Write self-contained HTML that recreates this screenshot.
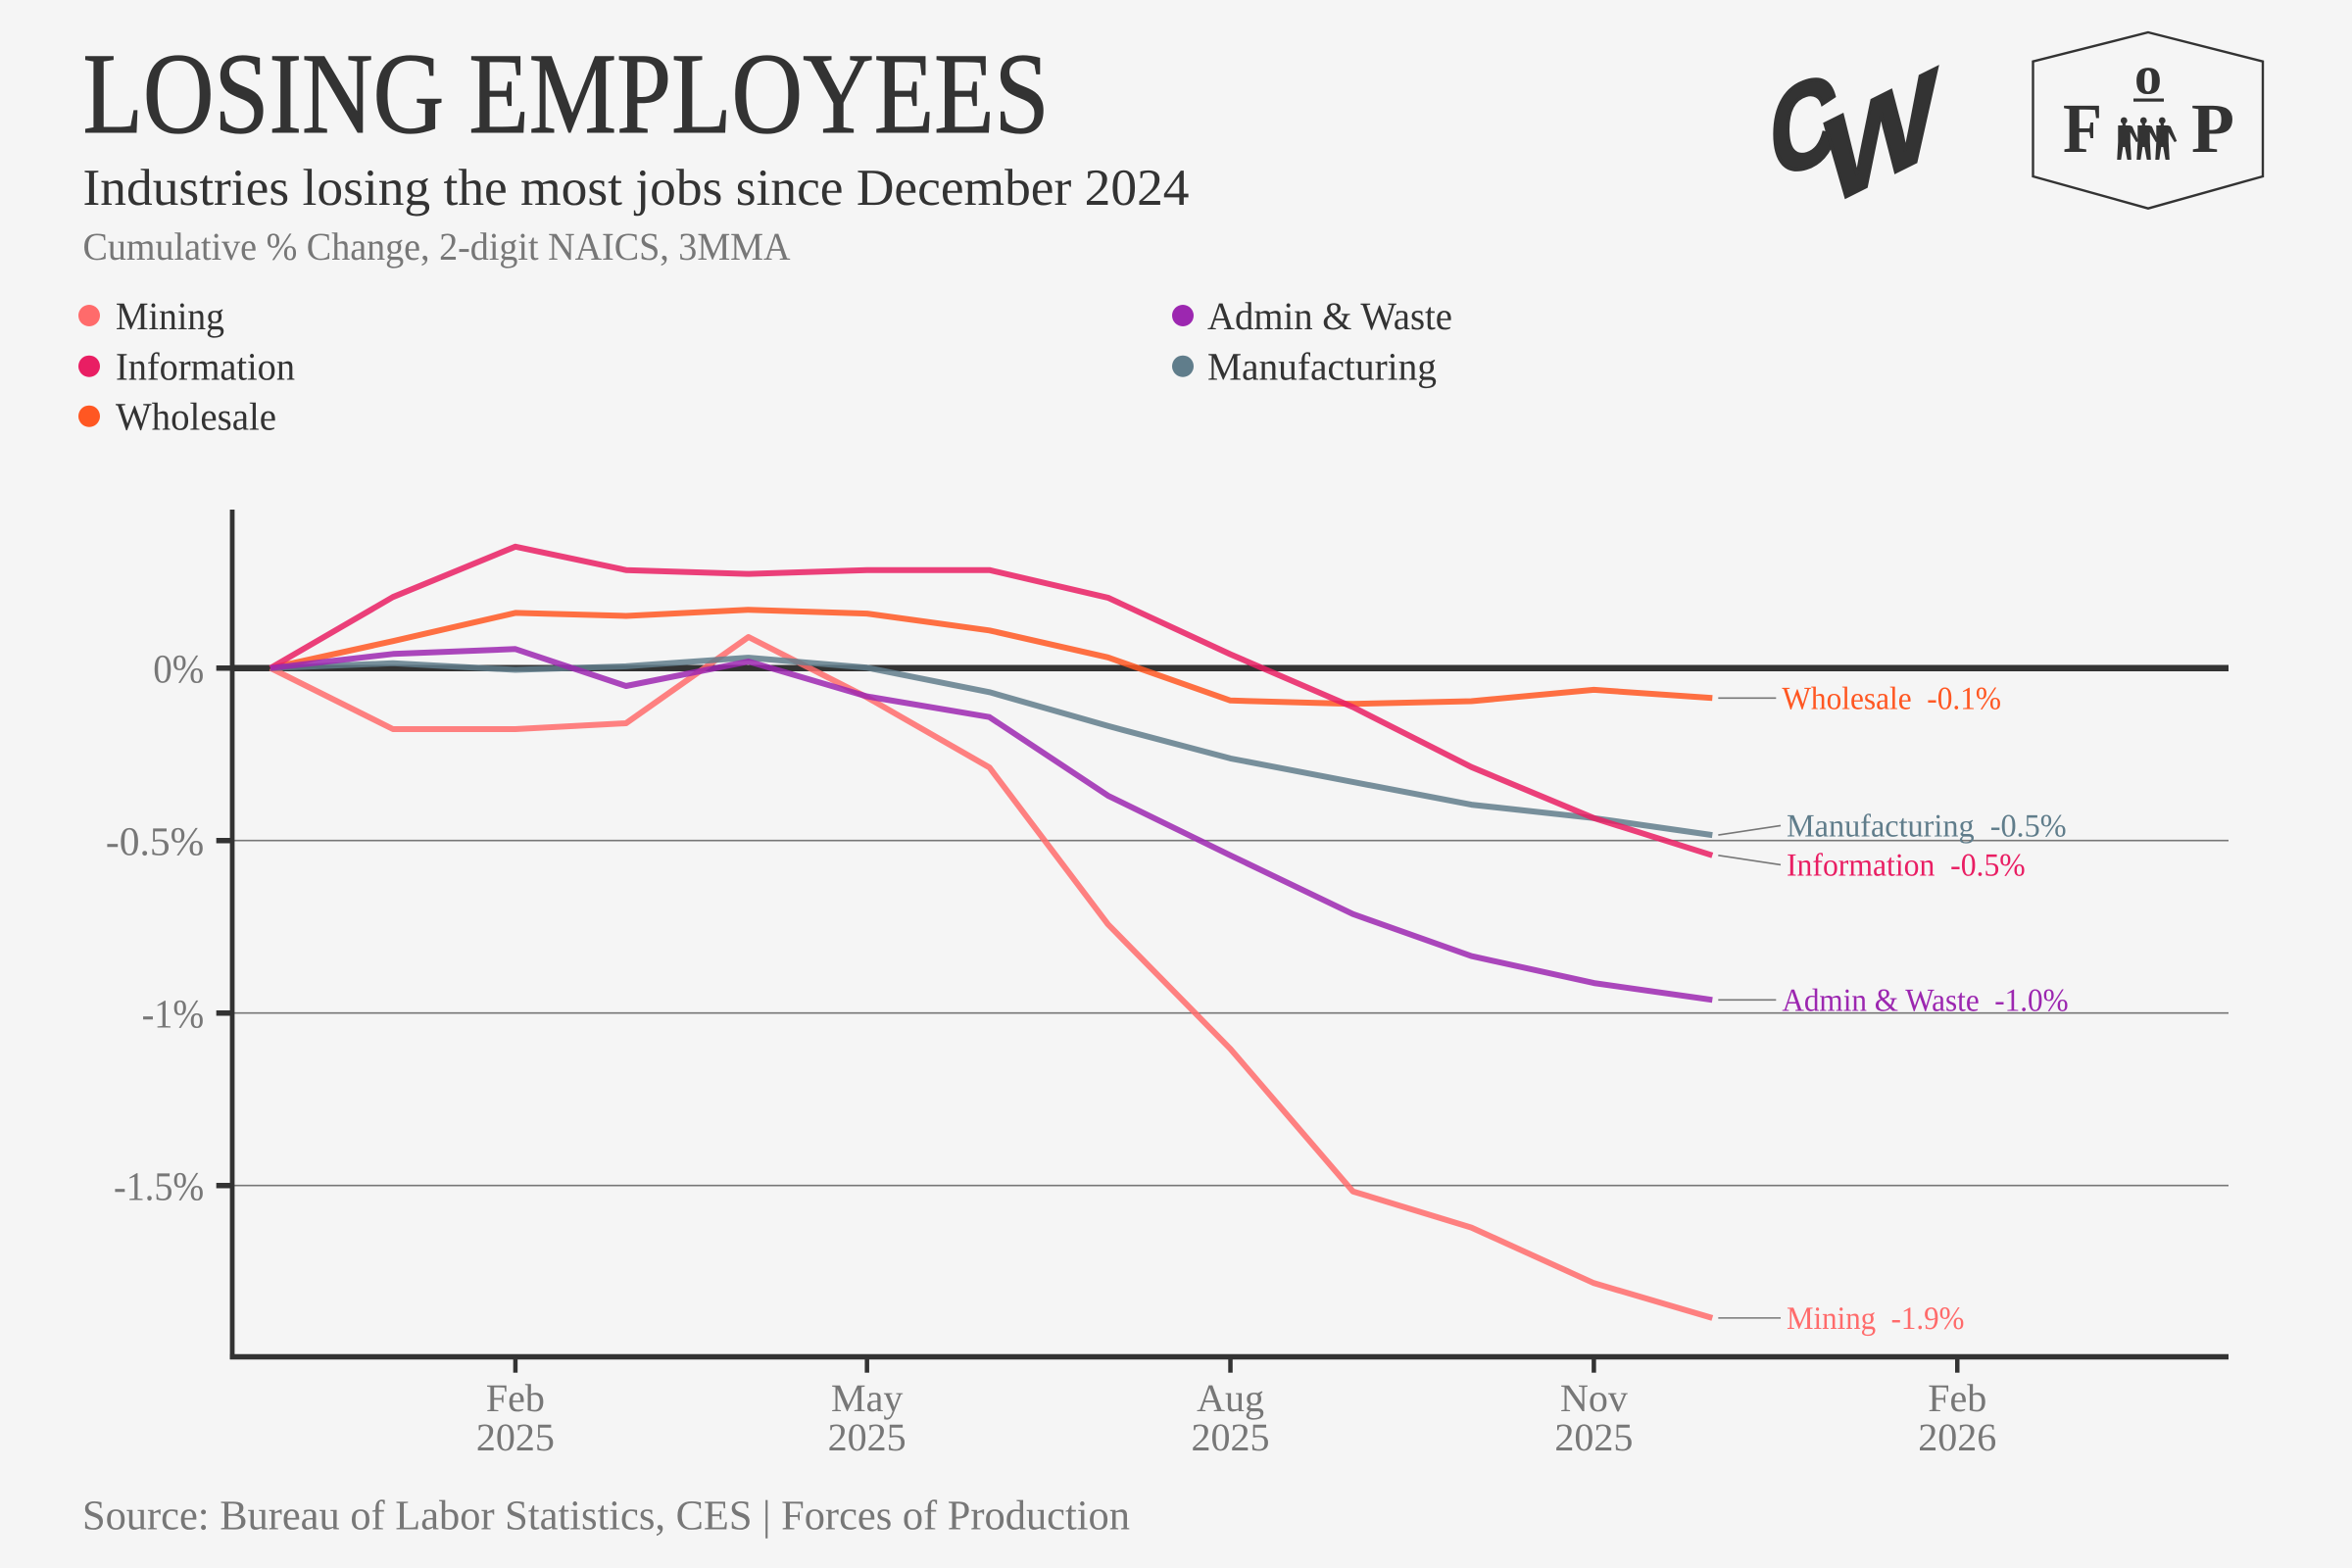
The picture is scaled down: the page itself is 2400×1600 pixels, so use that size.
<!DOCTYPE html>
<html lang="en">
<head>
<meta charset="utf-8">
<title>Losing Employees</title>
<style>
html,body{margin:0;padding:0;background:#f5f5f5;}
body{width:2400px;height:1600px;overflow:hidden;}
svg{display:block;}
text{font-family:"Liberation Serif",serif;text-rendering:geometricPrecision;}
</style>
</head>
<body>
<svg id="chart" xmlns="http://www.w3.org/2000/svg" width="2400" height="1600" viewBox="0 0 2400 1600">
  <rect x="0" y="0" width="2400" height="1600" fill="#f5f5f5"/>

  <text x="84.5" y="135" font-size="118" fill="#333" stroke="#333" stroke-width="1" textLength="986" lengthAdjust="spacingAndGlyphs">LOSING EMPLOYEES</text>
  <text x="84.5" y="209" font-size="53" fill="#333" textLength="1129" lengthAdjust="spacingAndGlyphs">Industries losing the most jobs since December 2024</text>
  <text x="84.5" y="265" font-size="40" fill="#777" textLength="722" lengthAdjust="spacingAndGlyphs">Cumulative % Change, 2-digit NAICS, 3MMA</text>

  <g>
    <g>
      <circle cx="91" cy="322" r="11" fill="#FF6B6B"/>
      <text x="118" y="336" font-size="40" fill="#333" textLength="111" lengthAdjust="spacingAndGlyphs">Mining</text>
    </g>
    <g>
      <circle cx="91" cy="373.7" r="11" fill="#E91E63"/>
      <text x="118" y="387.5" font-size="40" fill="#333" textLength="183" lengthAdjust="spacingAndGlyphs">Information</text>
    </g>
    <g>
      <circle cx="91" cy="424.7" r="11" fill="#FF5722"/>
      <text x="118" y="438.3" font-size="40" fill="#333" textLength="164" lengthAdjust="spacingAndGlyphs">Wholesale</text>
    </g>
    <g>
      <circle cx="1207" cy="322" r="11" fill="#9C27B0"/>
      <text x="1232" y="336" font-size="40" fill="#333" textLength="250" lengthAdjust="spacingAndGlyphs">Admin &amp; Waste</text>
    </g>
    <g>
      <circle cx="1207" cy="373.7" r="11" fill="#607D8B"/>
      <text x="1232" y="387.5" font-size="40" fill="#333" textLength="234" lengthAdjust="spacingAndGlyphs">Manufacturing</text>
    </g>
  </g>

  <g fill="#333" stroke="#333">
    <g transform="matrix(1,-0.3,0,1,1807,181)">
      <text x="0" y="0" font-size="125" font-weight="700" stroke-width="4" style="font-family:'Liberation Sans',sans-serif" textLength="68" lengthAdjust="spacingAndGlyphs">C</text>
    </g>
    <g transform="matrix(1,-0.5,0,1,1862,212)">
      <text x="0" y="0" font-size="125" font-weight="700" stroke-width="3" style="font-family:'Liberation Sans',sans-serif" textLength="115" lengthAdjust="spacingAndGlyphs">W</text>
    </g>
  </g>

  <g>
    <polygon points="2192,33 2309,62.7 2309,180 2192,212.7 2074.5,180 2074.5,62.7" fill="none" stroke="#333" stroke-width="2.4"/>
    <text x="2105" y="155" font-size="72" font-weight="700" fill="#333" textLength="40" lengthAdjust="spacingAndGlyphs">F</text>
    <text x="2192" y="95.5" font-size="56" font-weight="700" fill="#333" text-anchor="middle">o</text>
    <rect x="2177" y="100.5" width="31" height="3.2" fill="#333"/>
    <text x="2236" y="155" font-size="72" font-weight="700" fill="#333" textLength="44" lengthAdjust="spacingAndGlyphs">P</text>
    <defs>
      <g id="person">
        <circle cx="0" cy="-36" r="3.4" fill="#333"/>
        <rect x="-1.6" y="-36" width="3.2" height="6" fill="#333"/>
        <path d="M-6,-31 H6 L8.5,-30 L15,-15 L12.5,-14 L6.5,-24 L6.5,-14 L7.5,4 H3.4 L1,-9 L-1,-9 L-3,4 H-7 L-6,-14 Z" fill="#333"/>
      </g>
    </defs>
    <use href="#person" x="2167.3" y="159"/>
    <use href="#person" x="2187.3" y="159"/>
    <use href="#person" x="2206.3" y="159"/>
  </g>

  <g id="grid"></g>
  <g id="axes"></g>
  <g id="series"></g>
  <g id="labels"></g>

  <text x="84" y="1560.7" font-size="43" fill="#777" textLength="1069" lengthAdjust="spacingAndGlyphs">Source: Bureau of Labor Statistics, CES | Forces of Production</text>
</svg>

<script>
const months = ['2024-12-01','2025-01-01','2025-02-01','2025-03-01','2025-04-01','2025-05-01','2025-06-01','2025-07-01','2025-08-01','2025-09-01','2025-10-01','2025-11-01','2025-12-01'];
const miningValues = [0,-0.177,-0.177,-0.16,0.09,-0.085,-0.288,-0.743,-1.104,-1.517,-1.622,-1.783,-1.884];
const informationValues = [0,0.206,0.352,0.284,0.273,0.284,0.284,0.204,0.04,-0.113,-0.287,-0.435,-0.543];
const wholesaleValues = [0,0.078,0.16,0.151,0.169,0.158,0.109,0.031,-0.094,-0.104,-0.096,-0.063,-0.087];
const adminWasteValues = [0,0.041,0.055,-0.052,0.019,-0.082,-0.142,-0.37,-0.543,-0.713,-0.835,-0.913,-0.962];
const manufacturingValues = [0,0.014,-0.005,0.005,0.03,0.001,-0.07,-0.168,-0.262,-0.33,-0.396,-0.435,-0.484];
const seriesNames = ['Mining','Wholesale','Manufacturing','Information','Admin & Waste'];
const seriesValues = [miningValues,wholesaleValues,manufacturingValues,informationValues,adminWasteValues];
const seriesColors = ['#FF6B6B','#FF5722','#607D8B','#E91E63','#9C27B0'];
const yTickValues = [0,-0.5,-1,-1.5];
const yTickLabels = ['0%','-0.5%','-1%','-1.5%'];
const xTickDates = ['2025-02-01','2025-05-01','2025-08-01','2025-11-01','2026-02-01'];
const xTickMonths = ['Feb','May','Aug','Nov','Feb'];
const xTickYears = ['2025','2025','2025','2025','2026'];

const SVGNS = 'http://www.w3.org/2000/svg';
const PLOT = {left:237, right:2274, top:520, bottom:1384.5};
const DAY = 86400000;
const startMs = Date.parse(months[0]);
function xScale(dateStr){ return 276 + (Date.parse(dateStr) - startMs) / DAY * 4.031; }
function yScale(v){ return 681.7 - v * 352; }
function kebab(s){ return s.toLowerCase().replace(/[^a-z0-9]+/g,'-'); }
function make(tag, parent, attrs){
  const el = document.createElementNS(SVGNS, tag);
  Object.keys(attrs).forEach(function(k){ el.setAttribute(k, attrs[k]); });
  parent.appendChild(el);
  return el;
}
function fitText(el, factor){
  const w = el.getComputedTextLength();
  el.setAttribute('textLength', (w * factor).toFixed(1));
  el.setAttribute('lengthAdjust', 'spacingAndGlyphs');
}
/* horizontal glyph fit, approximating the reference typeface's widths */
function tickFit(label){ return label.indexOf('1') >= 0 ? 0.92 : (label.length > 2 ? 1.0 : 0.94); }
function endLabelFit(name){
  if (name === 'Manufacturing') return 0.977;
  if (name === 'Information') return 0.96;
  if (name === 'Wholesale') return 0.95;
  if (name === 'Admin & Waste') return 0.945;
  return 0.938;
}

const gridG = document.getElementById('grid');
const axesG = document.getElementById('axes');
const seriesG = document.getElementById('series');
const labelsG = document.getElementById('labels');

yTickValues.forEach(function(v, i){
  const y = yScale(v);
  const line = make('line', gridG, {x1:PLOT.left, x2:PLOT.right, y1:y, y2:y, stroke: v === 0 ? '#333' : '#777', 'stroke-width': v === 0 ? 6.5 : 1.6});
  
  
  const tick = make('line', axesG, {x1:220.7, x2:PLOT.left, y1:y, y2:y, stroke:'#333', 'stroke-width':5.5});
  
  
  const label = make('text', axesG, {x:208.2, y:y + 14.8, 'font-size':41.5, fill:'#777', 'text-anchor':'end'});
  label.textContent = yTickLabels[i];
  
  
  fitText(label, tickFit(yTickLabels[i]));
});

const yAxis = make('line', axesG, {x1:PLOT.left, x2:PLOT.left, y1:PLOT.top, y2:PLOT.bottom + 2.5, stroke:'#333', 'stroke-width':4.8});


const xAxis = make('line', axesG, {x1:PLOT.left - 2.4, x2:PLOT.right, y1:PLOT.bottom, y2:PLOT.bottom, stroke:'#333', 'stroke-width':5.4});



xTickDates.forEach(function(d, i){
  const x = xScale(d);
  const tick = make('line', axesG, {x1:x, x2:x, y1:PLOT.bottom, y2:1400.7, stroke:'#333', 'stroke-width':4.5});
  
  
  const m = make('text', axesG, {x:x, y:1440, 'font-size':40, fill:'#777', 'text-anchor':'middle'});
  m.textContent = xTickMonths[i];
  
  
  const yr = make('text', axesG, {x:x, y:1480, 'font-size':40, fill:'#777', 'text-anchor':'middle'});
  yr.textContent = xTickYears[i];
  
  
});

seriesNames.forEach(function(name, s){
  const pts = seriesValues[s].map(function(v, i){ return xScale(months[i]).toFixed(1) + ',' + yScale(v).toFixed(1); }).join(' ');
  const line = make('polyline', seriesG, {points:pts, fill:'none', stroke:seriesColors[s], 'stroke-width':6, 'stroke-opacity':0.85, 'stroke-linejoin':'round', 'stroke-linecap':'butt'});
  
  
});

/* end labels: anchors start at the last value and are pushed apart when crowded */
const lastX = xScale(months[months.length - 1]);
const anchors = seriesNames.map(function(name, s){
  const vals = seriesValues[s];
  return {name:name, color:seriesColors[s], value:vals[vals.length - 1], y:yScale(vals[vals.length - 1]), labelY:yScale(vals[vals.length - 1])};
}).sort(function(a, b){ return a.y - b.y; });
const MIN_GAP = 40;
for (let i = 1; i < anchors.length; i++) {
  const gap = anchors[i].labelY - anchors[i - 1].labelY;
  if (gap < MIN_GAP) {
    const push = (MIN_GAP - gap) / 2;
    anchors[i - 1].labelY -= push;
    anchors[i].labelY += push;
  }
}
const shortLeaders = ['Wholesale','Admin & Waste'];
anchors.forEach(function(a){
  const endX = shortLeaders.indexOf(a.name) >= 0 ? lastX + 65 : lastX + 69.7;
  const leader = make('line', labelsG, {x1:lastX + 6, y1:a.y, x2:endX, y2:a.labelY, stroke:'#777', 'stroke-width':1.6});
  
  
  const text = make('text', labelsG, {x:endX + 6, y:a.labelY + 11, 'font-size':33, fill:a.color});
  text.textContent = a.name + '\u00A0\u00A0' + a.value.toFixed(1) + '%';
  
  
  fitText(text, endLabelFit(a.name));
});
</script>
</body>
</html>
